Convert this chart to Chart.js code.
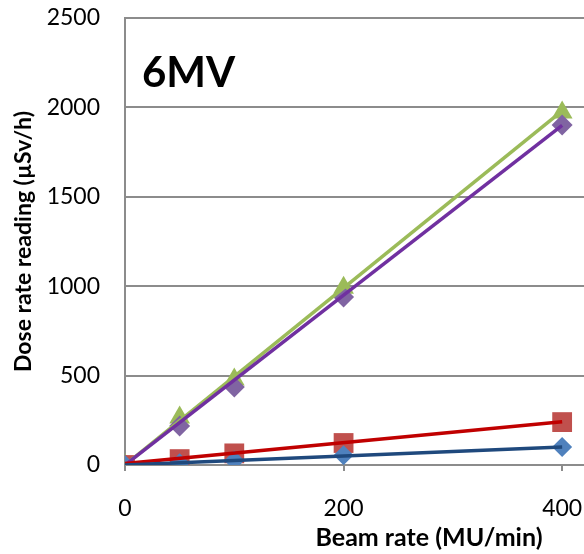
<!DOCTYPE html>
<html>
<head>
<meta charset="utf-8">
<script src="https://cdn.jsdelivr.net/npm/chart.js@4"></script>
<style>
  html, body { margin: 0; padding: 0; background: #fff; }
  #wrap { width: 584px; height: 554px; }
</style>
</head>
<body>
<div id="wrap"><canvas id="chart"></canvas></div>
<script>
// Beam rate (MU/min) at each measurement
const beamRates = [0, 50, 100, 200, 400];

// Measured dose rate readings (µSv/h)
const blueSeries = [0, 10, 25, 55, 100];
const redSeries = [0, 33, 65, 123, 240];
const greenSeries = [0, 265, 478, 992, 1972];
const purpleSeries = [0, 218, 436, 940, 1902];

// Linear trend lines, value at 0 and at 400 MU/min
const trendX = [0, 400];
const blueTrend = [0, 100];
const redTrend = [8, 242];
const greenTrend = [0, 1980];
const purpleTrend = [0, 1900];

const xTicks = [0, 200, 400];
const yTicks = [0, 500, 1000, 1500, 2000, 2500];

const FONT = "Lato, 'Open Sans', sans-serif";
const GRID = '#8c8c8c';

const pts = (xs, ys) => xs.map((x, i) => ({ x: x, y: ys[i] }));

// draws the "6MV" label and the x-axis title
const labelsPlugin = {
    id: 'labels',
    afterDraw(chart) {
        const ctx = chart.ctx;
        const area = chart.chartArea;
        ctx.save();
        ctx.fillStyle = '#000';
        ctx.textBaseline = 'alphabetic';
        ctx.textAlign = 'left';
        ctx.font = 'bold 42px ' + FONT;
        ctx.fillText('6MV', area.left + 17, area.top + 69);
        ctx.textAlign = 'center';
        ctx.textBaseline = 'middle';
        ctx.font = 'bold 25px ' + FONT;
        ctx.fillText('Beam rate (MU/min)', 429, 538);
        ctx.restore();
    }
};

function markerSet(data, style, color, radius, order) {
    return {
        type: 'scatter',
        data: pts(beamRates, data),
        pointStyle: style,
        pointRadius: radius,
        pointBackgroundColor: color,
        pointBorderColor: color,
        pointBorderWidth: 0,
        showLine: false,
        order: order
    };
}

function trendSet(data, color, order) {
    return {
        type: 'line',
        data: pts(trendX, data),
        borderColor: color,
        borderWidth: 3.5,
        pointRadius: 0,
        fill: false,
        order: order
    };
}

// stop the scales from reserving room for overhanging tick labels
function noOverhang(scale) {
    scale.paddingTop = 0;
    scale.paddingBottom = 0;
    scale.paddingLeft = 0;
    scale.paddingRight = 0;
}

new Chart(document.getElementById('chart'), {
    type: 'scatter',
    data: {
        datasets: [
            trendSet(blueTrend, '#1f497d', 0),
            trendSet(redTrend, '#c00000', 1),
            trendSet(purpleTrend, '#7030a0', 2),
            trendSet(greenTrend, '#9bbb59', 3),
            markerSet(blueSeries, 'rectRot', '#4f81bd', 10, 4),
            markerSet(redSeries, 'rect', '#c0504d', 14, 5),
            markerSet(purpleSeries, 'rectRot', '#8064a2', 10.5, 6),
            markerSet(greenSeries, 'triangle', '#9bbb59', 12, 7)
        ]
    },
    options: {
        responsive: true,
        maintainAspectRatio: false,
        animation: false,
        layout: { autoPadding: false, padding: { top: 18, right: 0, bottom: 0, left: 0 } },
        plugins: {
            legend: { display: false },
            tooltip: { enabled: false }
        },
        scales: {
            x: {
                type: 'linear',
                min: 0,
                max: 420,
                afterBuildTicks: scale => { scale.ticks = xTicks.map(v => ({ value: v })); },
                afterFit: scale => { scale.height = 89; noOverhang(scale); },
                grid: {
                    drawOnChartArea: false,
                    drawTicks: true,
                    tickLength: 6,
                    color: GRID,
                    lineWidth: 2
                },
                border: { display: true, color: GRID, width: 2 },
                ticks: {
                    padding: 24,
                    maxRotation: 0,
                    color: '#000',
                    font: { family: FONT, size: 23 },
                    callback: v => String(v)
                }
            },
            y: {
                min: 0,
                max: 2500,
                afterBuildTicks: scale => { scale.ticks = yTicks.map(v => ({ value: v })); },
                afterFit: scale => { scale.width = 125; noOverhang(scale); },
                grid: {
                    drawTicks: false,
                    color: GRID,
                    lineWidth: 2
                },
                border: { display: true, color: GRID, width: 2 },
                ticks: {
                    padding: 25,
                    color: '#000',
                    font: { family: FONT, size: 23 },
                    callback: v => String(v)
                },
                title: {
                    display: true,
                    text: 'Dose rate reading (µSv/h)',
                    color: '#000',
                    font: { family: FONT, size: 23, weight: 'bold' },
                    padding: { top: 10, bottom: 0 }
                }
            }
        }
    },
    plugins: [labelsPlugin]
});
</script>
</body>
</html>
